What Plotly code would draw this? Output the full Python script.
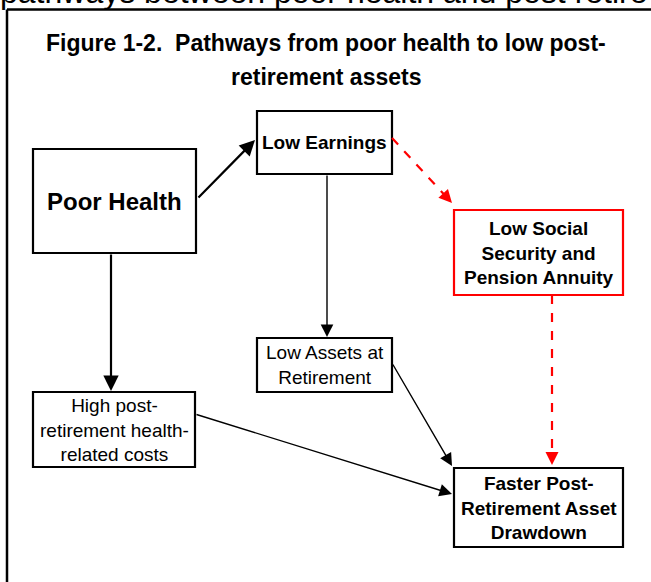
import plotly.graph_objects as go

# ---- content ----
page_heading = "pathways between poor health and post retire"
title_lines = ["Figure 1-2.  Pathways from poor health to low post-", "retirement assets"]

node_ids = ["health", "earn", "ss", "assets", "costs", "draw"]
node_labels = [
    "Poor Health",
    "Low Earnings",
    "Low Social<br>Security and<br>Pension Annuity",
    "Low Assets at<br>Retirement",
    "High post-<br>retirement health-<br>related costs",
    "Faster Post-<br>Retirement Asset<br>Drawdown",
]
node_bold = [True, True, True, False, False, True]

edge_from = ["health", "health", "earn", "earn", "ss", "assets", "costs"]
edge_to = ["earn", "costs", "assets", "ss", "draw", "draw", "draw"]
edge_kind = ["thick", "thick", "thin", "dashed", "dashed", "thin", "thin"]

# ---- layout (pixel geometry of the drawing) ----
W, H = 651, 582
box = {  # x0, y0, x1, y1
    "health": (33, 149, 196, 253),
    "earn": (257, 111, 392, 174),
    "ss": (454, 210, 623, 295),
    "assets": (257, 338, 392, 392),
    "costs": (33, 392, 195, 467),
    "draw": (454, 468, 623, 547),
}
font_size = {"health": 24, "earn": 19, "ss": 19, "assets": 19, "costs": 19, "draw": 19}
edge_ends = [  # (tail point, tip point)
    ((197, 199), (255, 140)),
    ((111, 253), (111, 391)),
    ((327, 174), (327, 337)),
    ((392, 138), (452, 203)),
    ((552, 295), (552, 465)),
    ((392, 363), (452, 466)),
    ((195, 414), (452, 494)),
]

fig = go.Figure()
shapes = []
annotations = []

# outer frame
shapes.append(dict(type="line", x0=7, y0=9.5, x1=W + 5, y1=9.5, line=dict(color="black", width=2.5)))
shapes.append(dict(type="line", x0=7, y0=9.5, x1=7, y1=H + 5, line=dict(color="black", width=2.5)))

# page heading (cut at the top)
annotations.append(dict(x=0, y=12, xref="x", yref="y", text=page_heading, showarrow=False,
                        xanchor="left", yanchor="bottom", xshift=-2,
                        font=dict(family="Liberation Sans", size=32, color="black")))

# title
for txt, ty in zip(title_lines, [43, 77]):
    annotations.append(dict(x=326, y=ty, xref="x", yref="y", text="<b>%s</b>" % txt.replace("  ", "&nbsp; "),
                            showarrow=False, xanchor="center", yanchor="middle",
                            font=dict(family="Liberation Sans", size=23, color="black")))

# nodes
for nid, lab, bold in zip(node_ids, node_labels, node_bold):
    x0, y0, x1, y1 = box[nid]
    col = "#ff0000" if nid == "ss" else "black"
    shapes.append(dict(type="rect", x0=x0, y0=y0, x1=x1, y1=y1,
                       line=dict(color=col, width=2.2), fillcolor="white", layer="above"))
    txt = lab
    if bold:
        txt = "<br>".join("<b>%s</b>" % s for s in lab.split("<br>"))
    annotations.append(dict(x=(x0 + x1) / 2, y=(y0 + y1) / 2, xref="x", yref="y", text=txt,
                            showarrow=False, xanchor="center", yanchor="middle",
                            font=dict(family="Liberation Sans", size=font_size[nid], color="black")))

# edges
for kind, (tail, tip) in zip(edge_kind, edge_ends):
    if kind == "dashed":
        dx, dy = tip[0] - tail[0], tip[1] - tail[1]
        L = (dx * dx + dy * dy) ** 0.5
        ux, uy = dx / L, dy / L
        shapes.append(dict(type="line", x0=tail[0], y0=tail[1], x1=tip[0] - ux * 4, y1=tip[1] - uy * 4,
                           line=dict(color="#ff0000", width=2.2, dash="dash")))
        annotations.append(dict(x=tip[0], y=tip[1], ax=tip[0] - ux * 10, ay=tip[1] - uy * 10,
                                xref="x", yref="y", axref="x", ayref="y", text="",
                                showarrow=True, arrowhead=2, arrowsize=1.3, arrowwidth=2,
                                arrowcolor="#ff0000", standoff=0, startstandoff=0))
    else:
        w = 2.2 if kind == "thick" else 1.4
        sz = 1.4 if kind == "thick" else 1.8
        annotations.append(dict(x=tip[0], y=tip[1], ax=tail[0], ay=tail[1],
                                xref="x", yref="y", axref="x", ayref="y", text="",
                                showarrow=True, arrowhead=2, arrowsize=sz, arrowwidth=w,
                                arrowcolor="black", standoff=0, startstandoff=0))

fig.update_layout(
    width=W, height=H,
    margin=dict(l=0, r=0, t=0, b=0),
    paper_bgcolor="white", plot_bgcolor="white",
    xaxis=dict(range=[0, W], visible=False, fixedrange=True),
    yaxis=dict(range=[H, 0], visible=False, fixedrange=True),
    shapes=shapes, annotations=annotations, showlegend=False,
)
fig.write_html("out.html", config={"displayModeBar": False},
               post_script="document.body.style.margin='0';document.body.style.overflow='hidden';")
